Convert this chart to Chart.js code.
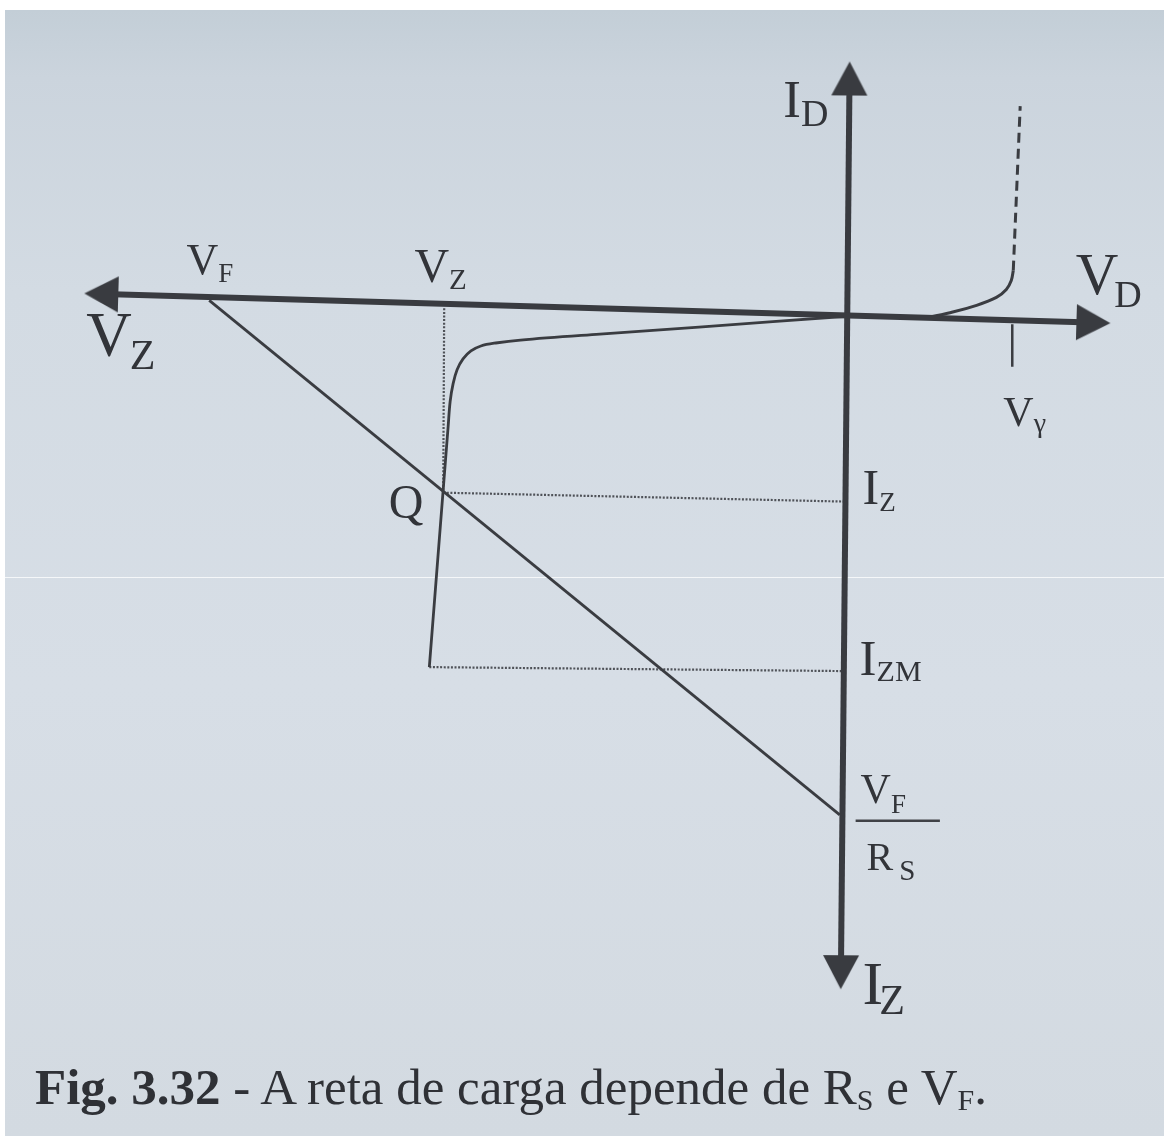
<!DOCTYPE html>
<html lang="pt">
<head>
<meta charset="utf-8">
<title>Fig. 3.32 - A reta de carga depende de Rs e Vf</title>
<script src="https://cdn.jsdelivr.net/npm/chart.js@4.4.1/dist/chart.umd.min.js"></script>
<style>
  html, body { margin: 0; padding: 0; background: #fff; }
  body { width: 1164px; height: 1136px; position: relative; overflow: hidden;
         font-family: "Liberation Serif", "DejaVu Serif", serif; }
  #paper { position: absolute; left: 5px; top: 10px; right: 0; bottom: 0;
           background: linear-gradient(to bottom, #c3ced7 0%, #cbd4dd 6%, #d3dbe3 25%, #d7dee6 60%, #d3dae1 100%); }
  #scan-line { position: absolute; left: 5px; right: 0; top: 577px; height: 1px; background: rgba(255,255,255,0.75); }
  #chart { position: absolute; left: 0; top: 0; }
  .lbl { position: absolute; white-space: nowrap; line-height: 1; color: #323439; }
  .lbl .sub { position: relative; }
  #caption { position: absolute; left: 35px; top: 1062px; font-size: 51px; line-height: 1;
             white-space: nowrap; color: #2f3136; }
  #caption .cs { font-size: 30px; position: relative; top: 6px; }
</style>
</head>
<body>
<div id="paper"></div>
<div id="scan-line"></div>
<canvas id="chart" width="1164" height="1136"></canvas>
<div id="caption"><b>Fig. 3.32</b> - A reta de carga depende de R<span class="cs">S</span> e V<span class="cs">F</span>.</div>
<script>
// Eixos: V_D para a direita (V_Z para a esquerda), I_D para cima (I_Z para baixo)
const hAxisV = [-769, 266];
const hAxisI = [23, -7];
const vAxisV = [3, -6];
const vAxisI = [257, -679];

// Curva do zener: joelho em V_Z e descida até I_ZM
const zenerV = [0, -149, -249, -329, -354, -369, -379, -387, -393, -397, -400, -402, -421];
const zenerI = [0, -11, -18, -24, -27, -30, -35, -43, -54, -68, -86, -111, -354];

// Polarização direta até V_gamma
const forwardV = [0, 51, 81, 106, 131, 151, 161, 166, 168];
const forwardI = [0, -1, -1, 4, 11, 19, 27, 36, 46];
const forwardDashV = [168, 175];
const forwardDashI = [46, 212];

// Reta de carga: de V_F até V_F/R_S
const loadV = [-643, -7];
const loadI = [16, -503];

// Ponto Q e níveis de referência
const vzLineV = [-406, -407];
const vzLineI = [8, -178];
const izLineV = [-407, -2];
const izLineI = [-178, -187];
const izmLineV = [-421, -3];
const izmLineI = [-354, -358];
const vGammaV = [167, 167];
const vGammaI = [-8, -51];
const fracBarV = [9, 94];
const fracBarI = [-509, -509];

const labels = [
  { t: 'I', s: 'D', v: -64, i: 201, size: 53, subSize: 38, drop: 9 },
  { t: 'V', s: 'D', v: 231, i: 22, size: 59, subSize: 38, drop: 13, gap: -4 },
  { t: 'V', s: 'F', v: -666, i: 42, size: 44, subSize: 27, drop: 8 },
  { t: 'V', s: 'Z', v: -436, i: 34, size: 48, subSize: 29, drop: 7 },
  { t: 'V', s: 'Z', v: -767, i: -41, size: 63, subSize: 42, drop: 13, gap: -2 },
  { t: 'V', s: 'γ', v: 158, i: -111, size: 42, subSize: 28, drop: 6 },
  { t: 'Q', v: -462, i: -204, size: 48 },
  { t: 'I', s: 'Z', v: 16, i: -189, size: 50, subSize: 27, drop: 7 },
  { t: 'I', s: 'ZM', v: 13, i: -363, size: 51, subSize: 30, drop: 6 },
  { t: 'V', s: 'F', v: 14, i: -491, size: 42, subSize: 27, drop: 10 },
  { t: 'R', s: 'S', v: 20, i: -559, size: 40, subSize: 29, drop: 10, gap: 6 },
  { t: 'I', s: 'Z', v: 16, i: -694, size: 62, subSize: 42, drop: 10, gap: -4 }
];

const INK = '#393b40';
const xy = (xs, ys) => xs.map((x, k) => ({ x, y: ys[k] }));

// ponta de seta: triângulo com a ponta no centro do canvas, apontando para cima
const arrowHead = (len, width) => {
  const c = document.createElement('canvas');
  c.width = len * 2;
  c.height = len * 2;
  const g = c.getContext('2d');
  g.fillStyle = INK;
  g.beginPath();
  g.moveTo(len, len);
  g.lineTo(len - width / 2, len * 2);
  g.lineTo(len + width / 2, len * 2);
  g.closePath();
  g.fill();
  return c;
};
const head = arrowHead(34, 36);

const angle = (a, b) => Math.atan2(b.x - a.x, b.y - a.y) * 180 / Math.PI;
const pullBack = (a, b, d) => {
  const len = Math.hypot(b.x - a.x, b.y - a.y);
  return { x: a.x + (b.x - a.x) * d / len, y: a.y + (b.y - a.y) * d / len };
};

const axisSets = (vs, is) => {
  const [p0, p1] = xy(vs, is);
  return [
    { data: [p0, p1], showLine: false, pointStyle: head, pointRadius: 1,
      rotation: [angle(p1, p0), angle(p0, p1)] },
    { data: [pullBack(p0, p1, 20), pullBack(p1, p0, 20)], borderColor: INK, borderWidth: 6 }
  ];
};

const line = (vs, is, opts) => Object.assign({
  data: xy(vs, is), borderColor: '#3a3c41', borderWidth: 2.8, tension: 0
}, opts);

const dotted = { borderColor: '#4f5258', borderWidth: 2.2, borderDash: [2, 1.6] };

const labelPlugin = {
  id: 'figLabels',
  afterDraw(chart) {
    const { x, y } = chart.scales;
    labels.forEach((l, k) => {
      let el = document.getElementById('lbl' + k);
      if (!el) {
        el = document.createElement('div');
        el.id = 'lbl' + k;
        el.className = 'lbl';
        el.style.fontSize = l.size + 'px';
        el.textContent = l.t;
        if (l.s) {
          const s = document.createElement('span');
          s.className = 'sub';
          s.textContent = l.s;
          s.style.fontSize = l.subSize + 'px';
          s.style.top = l.drop + 'px';
          s.style.marginLeft = (l.gap || 0) + 'px';
          el.appendChild(s);
        }
        document.body.appendChild(el);
      }
      el.style.left = x.getPixelForValue(l.v) + 'px';
      el.style.top = (y.getPixelForValue(l.i) - 0.8375 * l.size) + 'px';
    });
  }
};

new Chart(document.getElementById('chart'), {
  type: 'scatter',
  data: {
    datasets: [
      ...axisSets(hAxisV, hAxisI),
      ...axisSets(vAxisV, vAxisI),
      line(zenerV, zenerI, { tension: 0.35 }),
      line(forwardV, forwardI, { tension: 0.35, borderWidth: 3 }),
      line(forwardDashV, forwardDashI, { borderWidth: 3, borderDash: [10, 6] }),
      line(loadV, loadI),
      line(vGammaV, vGammaI, { borderWidth: 2.5 }),
      line(fracBarV, fracBarI, { borderWidth: 2.5, borderColor: '#404247' }),
      line(vzLineV, vzLineI, dotted),
      line(izLineV, izLineI, dotted),
      line(izmLineV, izmLineI, dotted)
    ].map(d => Object.assign({ showLine: true, pointRadius: 0, clip: false, backgroundColor: INK }, d))
  },
  options: {
    responsive: false,
    animation: false,
    events: [],
    layout: { padding: 0 },
    plugins: { legend: { display: false }, tooltip: { enabled: false } },
    scales: {
      x: { type: 'linear', min: -849, max: 315, display: false },
      y: { type: 'linear', min: -822, max: 314, display: false }
    }
  },
  plugins: [labelPlugin]
});
</script>
</body>
</html>
